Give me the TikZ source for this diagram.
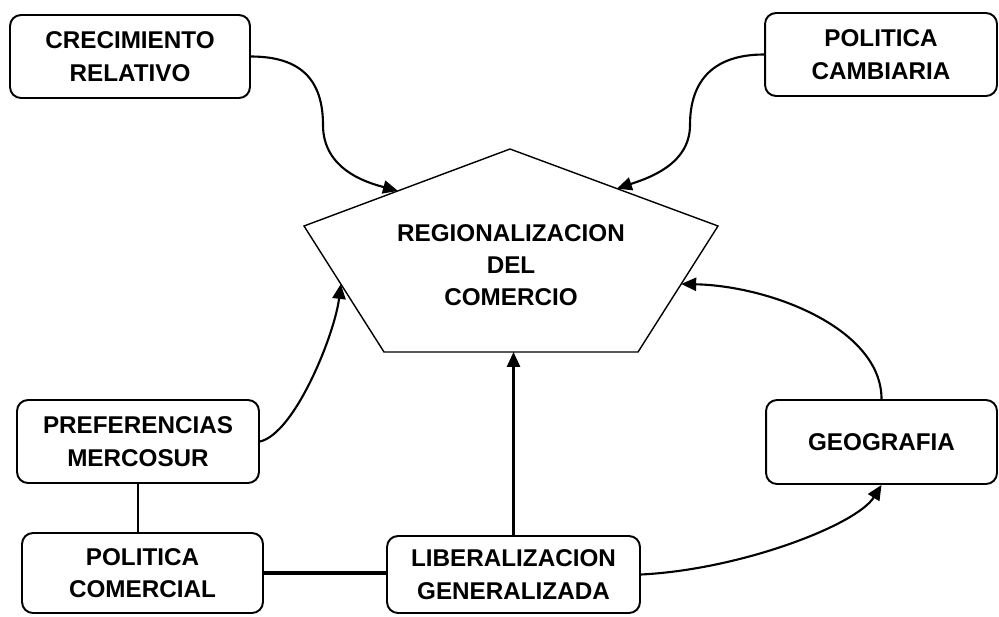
\documentclass[tikz,border=0pt]{standalone}
\usepackage{fontspec}
\setmainfont{Liberation Sans}
\usepackage{tikz}
\usetikzlibrary{arrows.meta}
\usetikzlibrary{calc}
\tikzset{caja/.style={draw, line width=1.1pt, rounded corners=0.22cm, align=center, inner sep=0pt, font=\fontsize{13.8}{18.4}\selectfont\bfseries}}
\tikzset{flecha/.style={->, line width=1.2pt}}
\tikzset{txt/.style={align=center, font=\fontsize{13.8}{18.4}\selectfont\bfseries}}

\begin{document}
\begin{tikzpicture}[x=0.02cm, y=-0.02cm, >={Triangle[length=8.5pt,width=7.5pt]}]
        \useasboundingbox (0,0) rectangle (999,616);
        % pentagono central
        \coordinate (pt) at (510,149);
        \coordinate (pl) at (304,226);
        \coordinate (pr) at (718,226);
        \coordinate (pbl) at (384,352);
        \coordinate (pbr) at (638,352);
        \draw[line width=0.8pt] (pt) -- (pr) -- (pbr) -- (pbl) -- (pl) -- cycle;
        \node[txt] (reg) at (511,265) {REGIONALIZACION\\DEL\\COMERCIO};
        \coordinate (a1) at ($(pl)!0.456!(pt)$);
        \coordinate (a2) at ($(pt)!0.514!(pr)$);
        \coordinate (a3) at ($(pl)!0.46!(pbl)$);
        \coordinate (a4) at ($(pr)!0.46!(pbr)$);
        \coordinate (c1) at (323,125);
        \coordinate (c2) at (690,125);
        % cajas
        \node[caja, minimum width=4.8cm, minimum height=1.66cm] (crec) at (130,56.5) {CRECIMIENTO\\RELATIVO};
        \node[caja, minimum width=4.64cm, minimum height=1.66cm] (camb) at (881,54.5) {POLITICA\\CAMBIARIA};
        \node[caja, minimum width=4.84cm, minimum height=1.66cm] (pref) at (138,441.5) {PREFERENCIAS\\MERCOSUR};
        \node[caja, minimum width=4.82cm, minimum height=1.6cm] (pcom) at (142.5,573) {POLITICA\\COMERCIAL};
        \node[caja, minimum width=5.06cm, minimum height=1.54cm] (libe) at (513.5,574.5) {LIBERALIZACION\\GENERALIZADA};
        \node[caja, minimum width=4.62cm, minimum height=1.68cm] (geo) at (881.5,442) {GEOGRAFIA};
        % conexiones
        \draw[flecha] (crec.east) .. controls +(50,0) and +(0,-45) .. (c1)
          .. controls +(0,45) and +(-30,-8) .. (a1);
        \draw[flecha] (camb.west) .. controls +(-50,0) and +(0,-45) .. (c2)
          .. controls +(0,40) and +(30,-10) .. (a2);
        \draw[flecha] (pref.east) .. controls +(35,-8) and +(-6,50) .. (a3);
        \draw[flecha] (geo.north) .. controls +(0,-70) and +(90,2) .. (a4);
        \draw[flecha] (libe.east) .. controls +(100,-5) and +(-25,40) .. (geo.south);
        \draw[flecha] (libe.north) -- (libe.north |- pbl);
        \draw[line width=1.1pt] (pref.south) -- (pref.south |- pcom.north);
        \draw[line width=1.8pt] (pcom.east) -- (pcom.east -| libe.west);
\end{tikzpicture}
\end{document}
